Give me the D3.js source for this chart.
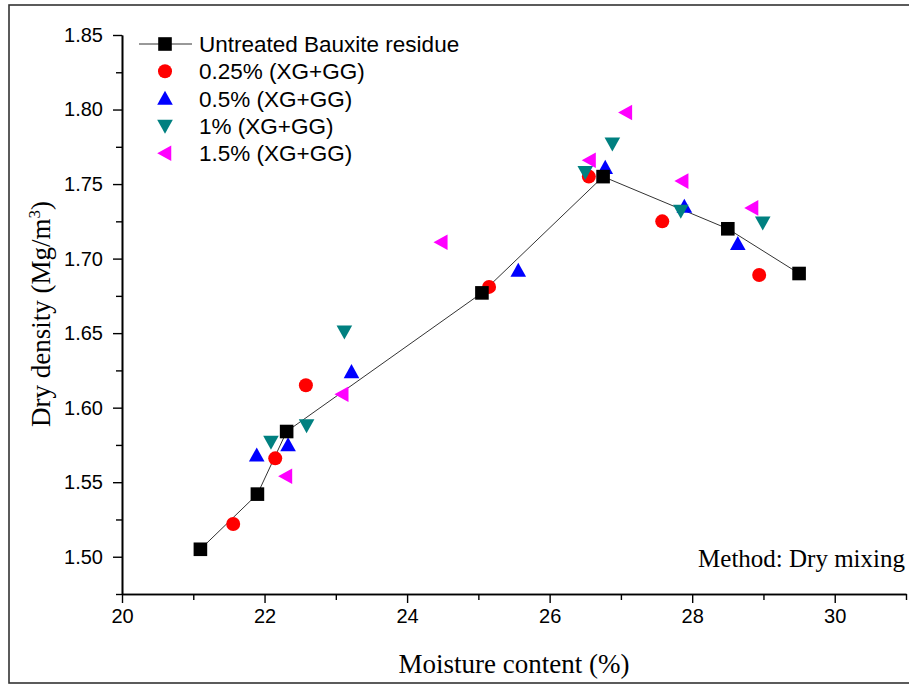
<!DOCTYPE html>
<html>
<head>
<meta charset="utf-8">
<script src="https://cdn.jsdelivr.net/npm/d3@7"></script>
<style>
  html, body { margin: 0; padding: 0; background: #fff; }
  svg { display: block; }
</style>
</head>
<body>
<svg id="chart" width="909" height="689"></svg>
<script>
// ---- data ----
const untreatedX = [21.10, 21.90, 22.31, 25.05, 26.75, 28.50, 29.50];
const untreatedY = [1.505, 1.542, 1.584, 1.677, 1.755, 1.720, 1.690];
const p025X = [21.56, 22.15, 22.58, 25.15, 26.55, 27.58, 28.94];
const p025Y = [1.522, 1.566, 1.615, 1.681, 1.755, 1.725, 1.689];
const p05X = [21.89, 22.33, 23.22, 25.56, 26.78, 27.89, 28.64];
const p05Y = [1.568, 1.575, 1.624, 1.692, 1.761, 1.735, 1.710];
const p1X = [22.09, 22.59, 23.12, 26.50, 26.88, 27.84, 28.99];
const p1Y = [1.577, 1.588, 1.651, 1.758, 1.777, 1.732, 1.724];
const p15X = [22.30, 23.09, 24.48, 26.56, 27.07, 27.86, 28.84];
const p15Y = [1.554, 1.609, 1.711, 1.766, 1.798, 1.752, 1.734];
const seriesNames = ["Untreated Bauxite residue", "0.25% (XG+GG)", "0.5% (XG+GG)", "1% (XG+GG)", "1.5% (XG+GG)"];
const xTickValues = [20, 22, 24, 26, 28, 30];
const yTickValues = [1.50, 1.55, 1.60, 1.65, 1.70, 1.75, 1.80, 1.85];

const series = [
  {name: seriesNames[0], xs: untreatedX, ys: untreatedY, color: "#000000", shape: "square", line: true},
  {name: seriesNames[1], xs: p025X, ys: p025Y, color: "#ff0000", shape: "circle"},
  {name: seriesNames[2], xs: p05X, ys: p05Y, color: "#0000ff", shape: "up"},
  {name: seriesNames[3], xs: p1X, ys: p1Y, color: "#008080", shape: "down"},
  {name: seriesNames[4], xs: p15X, ys: p15Y, color: "#ff00ff", shape: "left"}
];

const svg = d3.select("#chart");
const W = 909, H = 689;

// outer frame
svg.append("rect").attr("x", 9).attr("y", 5).attr("width", W - 9 + 2).attr("height", 678)
  .attr("fill", "none").attr("stroke", "#333").attr("stroke-width", 1.6);

const mLeft = 122, mRight = 906, mTop = 35, mBottom = 594;
const x = d3.scaleLinear().domain([20, 31]).range([mLeft, mRight]);
const y = d3.scaleLinear().domain([1.475, 1.85]).range([mBottom, mTop]);

// axes
const xAxis = d3.axisBottom(x).tickValues(xTickValues).tickSize(9).tickSizeOuter(0).tickPadding(6).tickFormat(d3.format("d"));
const xMinor = d3.axisBottom(x).tickValues([21, 23, 25, 27, 29, 31]).tickSize(6).tickSizeOuter(0).tickFormat("");
const yAxis = d3.axisLeft(y).tickValues(yTickValues).tickSize(9).tickSizeOuter(0).tickPadding(10).tickFormat(d3.format(".2f"));
const yMinor = d3.axisLeft(y).tickValues([1.475, 1.525, 1.575, 1.625, 1.675, 1.725, 1.775, 1.825]).tickSize(6).tickSizeOuter(0).tickFormat("");

function styleAxis(g) {
  g.select(".domain").attr("stroke", "#000").attr("stroke-width", 1.6);
  g.selectAll(".tick line").attr("stroke", "#000").attr("stroke-width", 1.4);
  g.selectAll(".tick text").attr("fill", "#000").style("font-family", "Liberation Sans, Arial, sans-serif").style("font-size", "20px");
}
svg.append("g").attr("transform", `translate(0,${mBottom})`).call(xMinor).call(styleAxis);
svg.append("g").attr("transform", `translate(0,${mBottom})`).call(xAxis).call(styleAxis);
svg.append("g").attr("transform", `translate(0,0)`).attr("transform", `translate(${mLeft},0)`).call(yMinor).call(styleAxis);
svg.append("g").attr("transform", `translate(${mLeft},0)`).call(yAxis).call(styleAxis);

// axis titles
svg.append("text").attr("x", 514).attr("y", 673).attr("text-anchor", "middle")
  .style("font-family", "Liberation Serif, Times New Roman, serif").style("font-size", "27px")
  .text("Moisture content (%)");
const yl = svg.append("text").attr("transform", "translate(50,314) rotate(-90)").attr("text-anchor", "middle")
  .style("font-family", "Liberation Serif, Times New Roman, serif").style("font-size", "27px");
yl.append("tspan").text("Dry density (Mg/m");
yl.append("tspan").attr("dy", -10).style("font-size", "17px").text("3");
yl.append("tspan").attr("dy", 10).text(")");

// annotation
svg.append("text").attr("x", 905).attr("y", 567).attr("text-anchor", "end")
  .style("font-family", "Liberation Serif, Times New Roman, serif").style("font-size", "25px")
  .text("Method: Dry mixing");

// symbols
function drawMarker(g, shape, color) {
  if (shape === "square") {
    g.append("rect").attr("x", -6.8).attr("y", -6.8).attr("width", 13.6).attr("height", 13.6).attr("fill", color);
  } else if (shape === "circle") {
    g.append("circle").attr("r", 7).attr("fill", color);
  } else {
    const s = 7.8;
    let pts;
    if (shape === "up") pts = [[0, -s], [s, s * 0.8], [-s, s * 0.8]];
    else if (shape === "down") pts = [[0, s], [s, -s * 0.8], [-s, -s * 0.8]];
    else pts = [[-s, 0], [s * 0.8, -s], [s * 0.8, s]];
    g.append("path").attr("d", d3.line()(pts) + "Z").attr("fill", color);
  }
}

// line for untreated
const lineGen = d3.line().x(d => x(d[0])).y(d => y(d[1]));
svg.append("path").datum(d3.zip(untreatedX, untreatedY)).attr("d", lineGen)
  .attr("fill", "none").attr("stroke", "#333").attr("stroke-width", 1);

const drawOrder = [1, 2, 3, 4, 0];
drawOrder.forEach(i => {
  const s = series[i];
  d3.zip(s.xs, s.ys).forEach(([vx, vy]) => {
    const g = svg.append("g").attr("transform", `translate(${x(vx)},${y(vy)})`);
    drawMarker(g, s.shape, s.color);
  });
});

// legend
const lx = 165, ly0 = 44, lstep = 27.3;
series.forEach((s, i) => {
  const yy = ly0 + i * lstep;
  if (s.line) {
    svg.append("line").attr("x1", lx - 26).attr("x2", lx + 27).attr("y1", yy).attr("y2", yy)
      .attr("stroke", "#333").attr("stroke-width", 1);
  }
  const g = svg.append("g").attr("transform", `translate(${lx},${yy})`);
  drawMarker(g, s.shape, s.color);
  svg.append("text").attr("x", 199).attr("y", yy + 8)
    .style("font-family", "Liberation Sans, Arial, sans-serif").style("font-size", "22.5px")
    .text(s.name);
});
</script>
</body>
</html>
